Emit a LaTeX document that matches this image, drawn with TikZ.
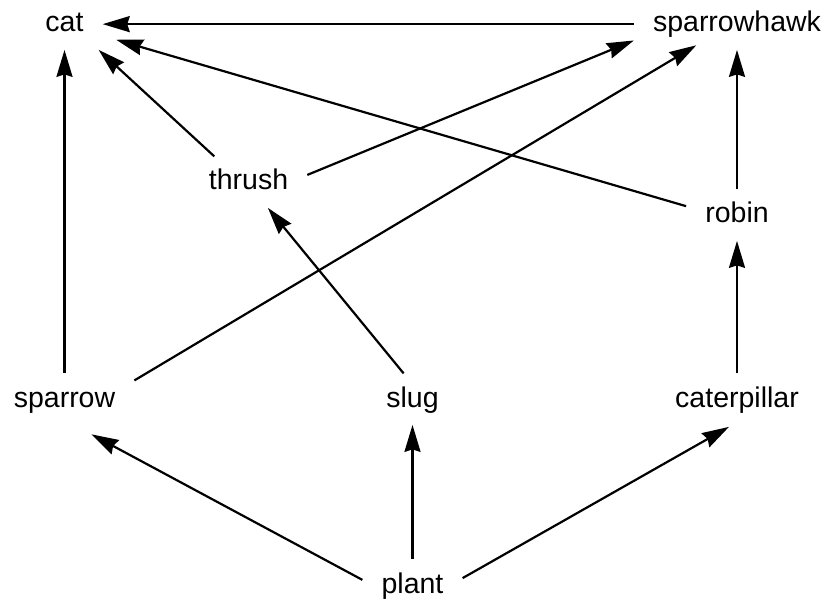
\documentclass[tikz,border=0pt]{standalone}
\usepackage{fontspec}
\setmainfont{Liberation Sans}
\usetikzlibrary{arrows.meta}
\begin{document}
\begin{tikzpicture}[x=1pt,y=-1pt,
  lbl/.style={font=\fontsize{28.5}{34}\selectfont, text height=21.4pt, text depth=5.7pt,
              inner xsep=19pt, inner ysep=12pt, anchor=base},
  conn/.style={line width=2.2pt, -{Stealth[length=27pt,width=16pt,inset=2.5pt]}}]
\useasboundingbox (0,0) rectangle (827,601);
\node[lbl] (cat) at (64.5,32) {cat};
\node[lbl] (sparrowhawk) at (737,32) {sparrowhawk};
\node[lbl] (thrush) at (248.5,190) {thrush};
\node[lbl] (robin) at (737,223) {robin};
\node[lbl] (sparrow) at (64.5,407) {sparrow};
\node[lbl] (slug) at (412.5,407) {slug};
\node[lbl] (caterpillar) at (737,407) {caterpillar};
\node[lbl] (plant) at (412.5,593) {plant};

\draw[conn] (sparrowhawk.west) -- (cat.east);
\draw[conn] (sparrow.north) -- (cat.south);
\draw[conn] (thrush.143) -- (cat.-37.4);
\draw[conn, shorten >=14pt] (robin.170.8) -- (cat.-17.4);
\draw[conn] (thrush.7.4) -- (sparrowhawk.189.4);
\draw[conn, shorten >=-9pt] (sparrow.15.2) -- (sparrowhawk.208.1);
\draw[conn] (robin.north) -- (sparrowhawk.south);
\draw[conn] (slug.109.8) -- (thrush.-53.8);
\draw[conn] (caterpillar.north) -- (robin.south);
\draw[conn, shorten >=20pt] (plant.174) -- (sparrow.-70.2);
\draw[conn] (plant.north) -- (slug.south);
\draw[conn, shorten >=4pt] (plant.8.6) -- (caterpillar.260);
\end{tikzpicture}
\end{document}
